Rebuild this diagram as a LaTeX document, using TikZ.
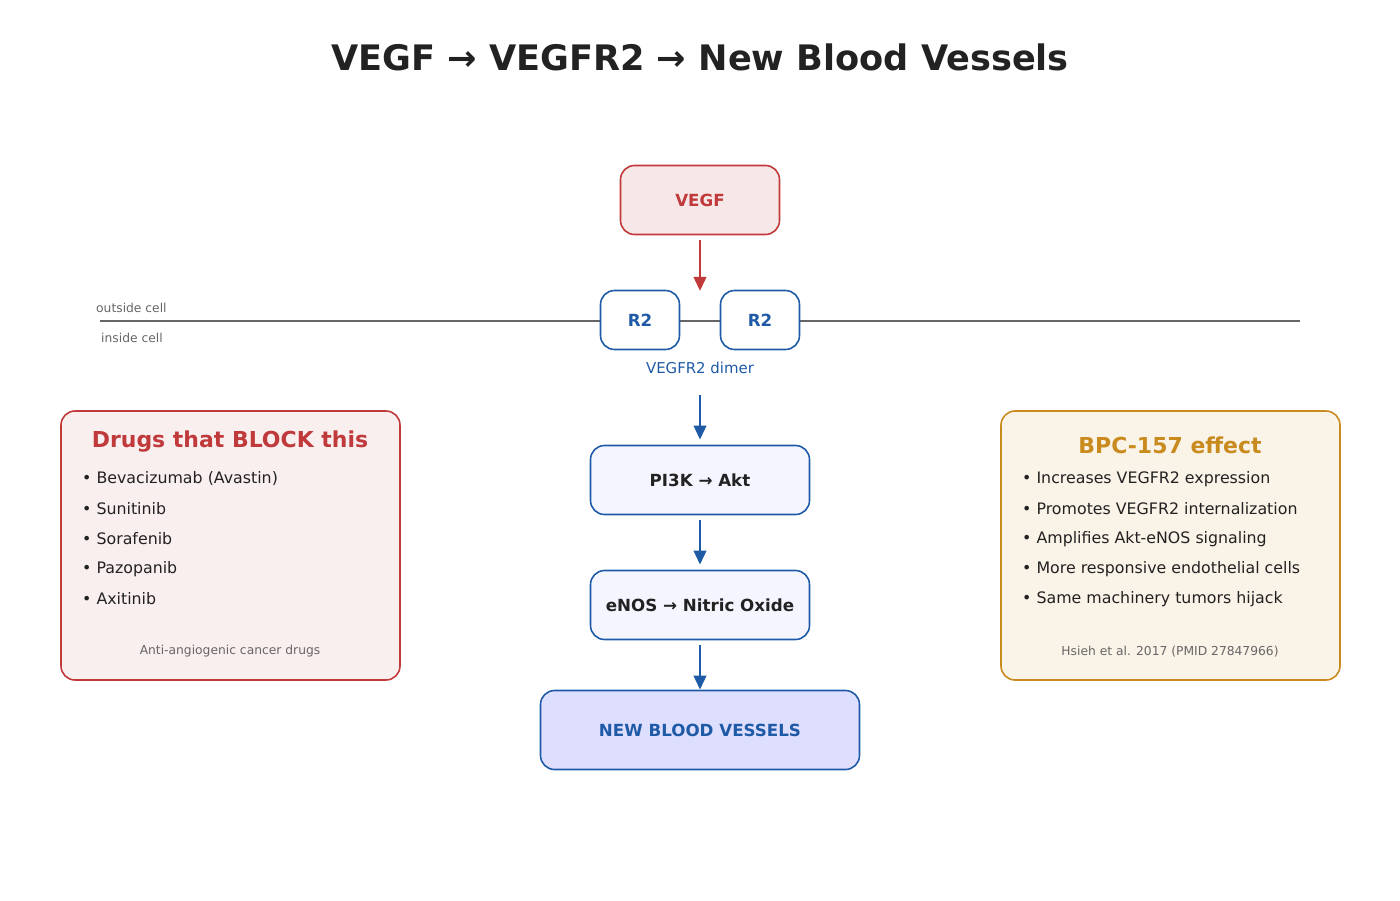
\documentclass[tikz,border=0pt]{standalone}
\usepackage{fontspec}
\setmainfont{DejaVu Sans}
\usetikzlibrary{positioning}
\definecolor{vred}{HTML}{C0393B}
\definecolor{vblue}{HTML}{1F5AA6}
\definecolor{vgold}{HTML}{C98A1E}
\definecolor{vgray}{HTML}{666666}
\definecolor{vdark}{HTML}{222222}
\tikzset{
  box/.style={draw=vblue, line width=0.9pt, rounded corners=8pt, fill=#1, align=center},
  step/.style={box=#1, minimum width=219*0.02cm, minimum height=69*0.02cm, font=\fontsize{9.5}{11}\selectfont\bfseries, text=vdark},
  flow/.style={-{Triangle[length=8pt,width=7pt]}, line width=1.6pt, vblue},
  item/.style={anchor=west, font=\fontsize{9}{11}\selectfont, text=vdark},
  note/.style={font=\fontsize{7}{9}\selectfont, text=vgray},
}
\usetikzlibrary{arrows.meta}
\begin{document}
\begin{tikzpicture}[x=0.02cm, y=-0.02cm]
\useasboundingbox (0,0) rectangle (1400,900);

\node[font=\fontsize{20}{24}\selectfont\bfseries, text=vdark] (title) at (700,57) {VEGF → VEGFR2 → New Blood Vessels};

% membrane
\draw[vgray, line width=1pt] (100,321) -- (1300,321);
\node[note, anchor=west] (outside) at (90,308) {outside cell};
\node[note, anchor=west] (inside) at (95,338) {inside cell};

% pathway
\node[box=vred!12, draw=vred, minimum width=159*0.02cm, minimum height=69*0.02cm,
      font=\fontsize{9.5}{11}\selectfont\bfseries, text=vred] (vegf) at (700,200) {VEGF};
\node[box=white, minimum width=79*0.02cm, minimum height=59*0.02cm,
      font=\fontsize{9.5}{11}\selectfont\bfseries, text=vblue] (r2a) at (640,320) {R2};
\node[box=white, minimum width=79*0.02cm, minimum height=59*0.02cm,
      font=\fontsize{9.5}{11}\selectfont\bfseries, text=vblue] (r2b) at (760,320) {R2};
\node[font=\fontsize{8.5}{10}\selectfont, text=vblue] (dimer) at (700,368) {VEGFR2 dimer};
\node[step=blue!4] (pi3k) at (700,480) {PI3K → Akt};
\node[step=blue!4] (enos) at (700,605) {eNOS → Nitric Oxide};
\node[step=blue!13, minimum width=319*0.02cm, minimum height=79*0.02cm, text=vblue] (vessels) at (700,730) {NEW BLOOD VESSELS};

\coordinate (vegfend) at (700,291);
\draw[flow, vred] ([yshift=-5*0.02cm]vegf.south) -- (vegfend);
\draw[flow] (700,395) -- ([yshift=5*0.02cm]pi3k.north);
\draw[flow] ([yshift=-5*0.02cm]pi3k.south) -- ([yshift=5*0.02cm]enos.north);
\draw[flow] ([yshift=-5*0.02cm]enos.south) -- (vessels.north);

% drugs
\node[box=vred!8, draw=vred, minimum width=339*0.02cm, minimum height=269*0.02cm] (drugs) at (230.5,545.5) {};
\node[font=\fontsize{12.5}{15}\selectfont\bfseries, text=vred] (drugtitle) at (230,442) {Drugs that BLOCK this};
\foreach \t [count=\i] in {Bevacizumab (Avastin), Sunitinib, Sorafenib, Pazopanib, Axitinib}
  \node[item] (drug\i) at (76,449+30*\i) {• \t};
\node[note] (drugnote) at (230,651) {Anti-angiogenic cancer drugs};

% BPC-157
\node[box=vgold!10, draw=vgold, minimum width=339*0.02cm, minimum height=269*0.02cm] (bpc) at (1170.5,545.5) {};
\node[font=\fontsize{12.5}{15}\selectfont\bfseries, text=vgold] (bpctitle) at (1170,445) {BPC-157 effect};
\foreach \t [count=\i] in {Increases VEGFR2 expression, Promotes VEGFR2 internalization, Amplifies Akt-eNOS signaling, More responsive endothelial cells, Same machinery tumors hijack}
  \node[item] (bpc\i) at (1016,449+30*\i) {• \t};
\node[note] (bpcnote) at (1170,652) {Hsieh et al. 2017 (PMID 27847966)};
\end{tikzpicture}
\end{document}
